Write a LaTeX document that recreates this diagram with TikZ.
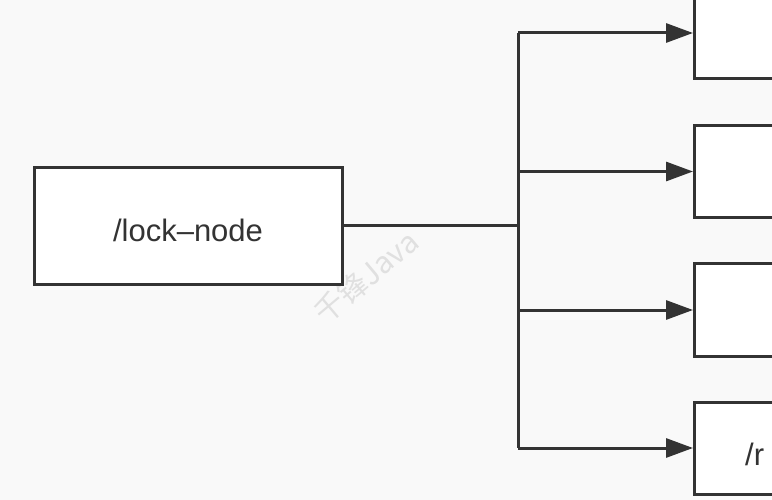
\documentclass[tikz,border=0pt]{standalone}
\usepackage{fontspec}
\setmainfont{Liberation Sans}
\newfontfamily\cjk{Noto Sans CJK SC}
\usepackage{xcolor}
\usepackage{tikz}
\usetikzlibrary{arrows.meta, positioning}
\definecolor{linegray}{RGB}{51, 51, 51}
\definecolor{paperbg}{RGB}{249, 249, 249}
\definecolor{markgray}{RGB}{224, 224, 224}

\begin{document}
\begin{tikzpicture}[x=1pt, y=-1pt,
        zbox/.style={draw=linegray, fill=white, line width=3pt, inner sep=0pt},
        zlink/.style={draw=linegray, line width=3pt},
        zarrow/.style={zlink, -{Triangle[length=27pt, width=19pt]}},
        ztext/.style={text=linegray, font=\fontsize{31}{37}\selectfont}]
    \useasboundingbox (0,0) rectangle (772,500);
    \clip (0,0) rectangle (772,500);
    \fill[paperbg] (0,0) rectangle (772,500);

    % watermark
    \node[rotate=40, text=markgray, font=\cjk\fontsize{30}{36}\selectfont] (mark) at (366,277) {千锋Java};

    \node[zbox, ztext, minimum width=308pt, minimum height=116pt] (locknode) at (188,226) {\raisebox{-16pt}[0pt][0pt]{/lock--node}};

    \foreach \i/\y in {1/33, 2/171.5, 3/310, 4/448}
        \node[zbox, minimum width=160pt, minimum height=92pt, anchor=west] (r\i) at (693,\y) {};

    \node[ztext, inner sep=0pt, anchor=west] (rlabel) at ([xshift=52pt, yshift=-6pt]r4.west) {/r};

    \coordinate (fork) at (518,226);
    \draw[zlink] (locknode.east) -- (fork);
    \draw[zlink] (fork |- r1.west) -- (fork |- r4.west);
    \foreach \i in {1,...,4}
        \draw[zarrow] (fork |- r\i.west) -- (r\i.west);
\end{tikzpicture}
\end{document}
